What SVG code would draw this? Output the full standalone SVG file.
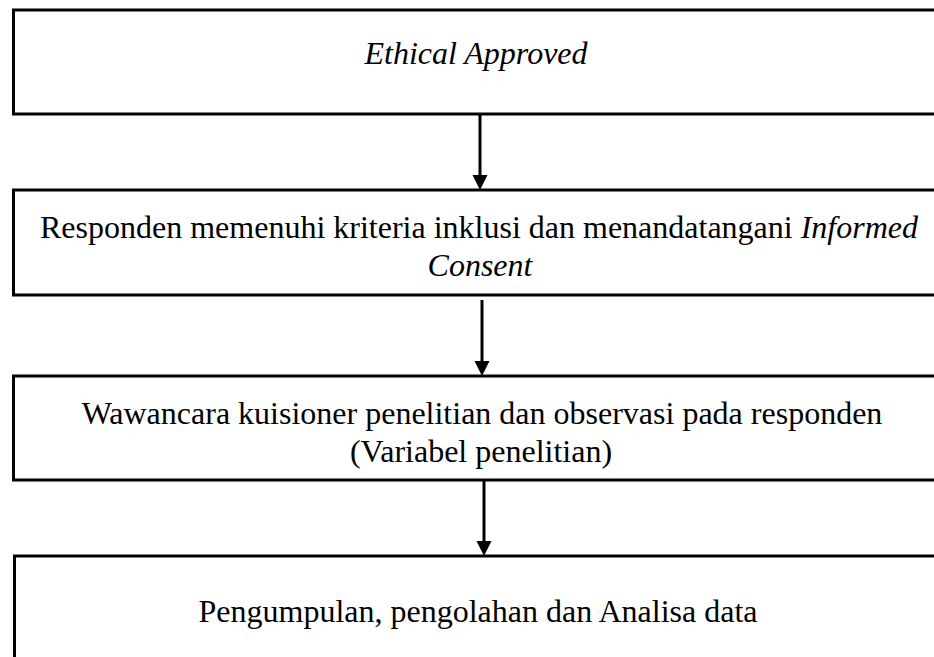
<svg xmlns="http://www.w3.org/2000/svg" width="934" height="657" viewBox="0 0 934 657">
<style>
.box{fill:#fff;stroke:#000;stroke-width:3}
.t{font-family:"Liberation Serif","Times New Roman",serif;font-size:32px;fill:#000;text-anchor:middle}
.i{font-style:italic}
.c{stroke:#000;stroke-width:3;fill:none}
</style>
<defs>
<marker id="ah" markerWidth="6" markerHeight="6" refX="5" refY="3" orient="auto" markerUnits="strokeWidth" viewBox="0 0 6 6">
<path d="M0,0 L6,3 L0,6 z" fill="#000"/>
</marker>
</defs>
<rect width="934" height="657" fill="#fff"/>
<g id="n1">
<rect class="box" x="13.5" y="10" width="930" height="104"/>
<text class="t i" x="476" y="64">Ethical Approved</text>
</g>
<g id="n2">
<rect class="box" x="13.5" y="190" width="930" height="105"/>
<text class="t" x="479" y="238">Responden memenuhi kriteria inklusi dan menandatangani <tspan class="i">Informed</tspan></text>
<text class="t i" x="480" y="276">Consent</text>
</g>
<g id="n3">
<rect class="box" x="13.5" y="376" width="930" height="104"/>
<text class="t" x="482" y="424">Wawancara kuisioner penelitian dan observasi pada responden</text>
<text class="t" x="481" y="462">(Variabel penelitian)</text>
</g>
<g id="n4">
<rect class="box" x="14.5" y="556" width="930" height="120"/>
<text class="t" x="478" y="622">Pengumpulan, pengolahan dan Analisa data</text>
</g>
<g id="connectors">
<line class="c" x1="480" y1="114" x2="480" y2="176"/>
<path d="M472.5,175 L487.5,175 L480,190 z" fill="#000"/>
<line class="c" x1="482" y1="300" x2="482" y2="362"/>
<path d="M474.5,361 L489.5,361 L482,376 z" fill="#000"/>
<line class="c" x1="484" y1="480" x2="484" y2="542"/>
<path d="M476.5,541 L491.5,541 L484,556 z" fill="#000"/>
</g>
</svg>
